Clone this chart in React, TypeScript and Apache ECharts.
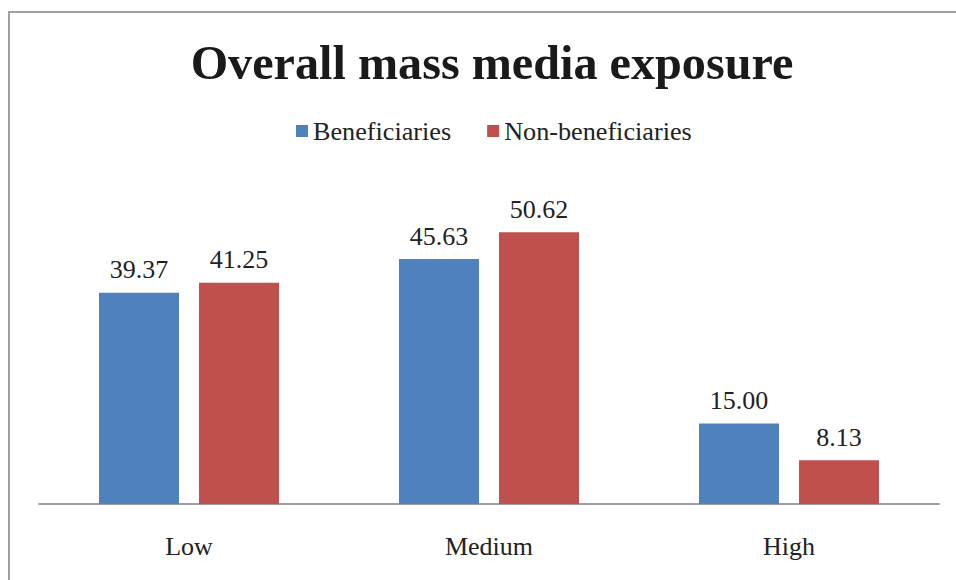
import React, { useEffect, useRef } from "react";
import * as echarts from "echarts";

const categories = ["Low", "Medium", "High"];
const beneficiaries = [39.37, 45.63, 15.0];
const nonBeneficiaries = [41.25, 50.62, 8.13];
const seriesNames = ["Beneficiaries", "Non-beneficiaries"];
const titleText = "Overall mass media exposure";

const FONT = "Liberation Serif";

export default function App() {
  const ref = useRef<HTMLDivElement>(null);
  useEffect(() => {
    if (!ref.current) return;
    const chart = echarts.init(ref.current, undefined, { renderer: "svg" });
    const labelCfg = {
      show: true,
      position: "top",
      distance: 10,
      formatter: (p: any) => Number(p.value).toFixed(2),
      fontFamily: FONT,
      fontSize: 26,
      color: "#222",
    };
    chart.setOption({
      animation: false,
      backgroundColor: "#ffffff",
      title: {
        text: titleText,
        left: 487,
        textAlign: "center",
        top: 33,
        textStyle: { fontFamily: FONT, fontWeight: "bold", fontSize: 48.2, color: "#1a1a1a" },
      },
      legend: {
        data: seriesNames,
        top: 113,
        left: 291,
        itemWidth: 12,
        itemHeight: 12,
        itemGap: 36,
        icon: "rect",
        textStyle: { fontFamily: FONT, fontSize: 26.2, color: "#222" },
      },
      graphic: [
        {
          type: "rect",
          shape: { x: 9, y: 12, width: 960, height: 600 },
          style: { fill: "none", stroke: "#a0a0a4", lineWidth: 2 },
          silent: true,
        },
      ],
      grid: { left: 39, right: 17, top: 182, height: 322 },
      xAxis: {
        type: "category",
        data: categories,
        axisLine: { lineStyle: { color: "#a0a0a4", width: 2 } },
        axisTick: { show: false },
        axisLabel: { fontFamily: FONT, fontSize: 26, color: "#222", margin: 29 },
      },
      yAxis: {
        type: "value",
        min: 0,
        max: 60,
        show: false,
        splitLine: { show: false },
      },
      series: [
        {
          name: seriesNames[0],
          type: "bar",
          data: beneficiaries,
          barWidth: 80,
          barGap: "25%",
          itemStyle: { color: "#4F81BD" },
          label: labelCfg,
        },
        {
          name: seriesNames[1],
          type: "bar",
          data: nonBeneficiaries,
          barWidth: 80,
          barGap: "25%",
          itemStyle: { color: "#C0504D" },
          label: labelCfg,
        },
      ],
    });
    return () => chart.dispose();
  }, []);
  return (
    <div
      ref={ref}
      style={{ position: "fixed", left: 0, top: 0, width: 956, height: 580 }}
    />
  );
}
